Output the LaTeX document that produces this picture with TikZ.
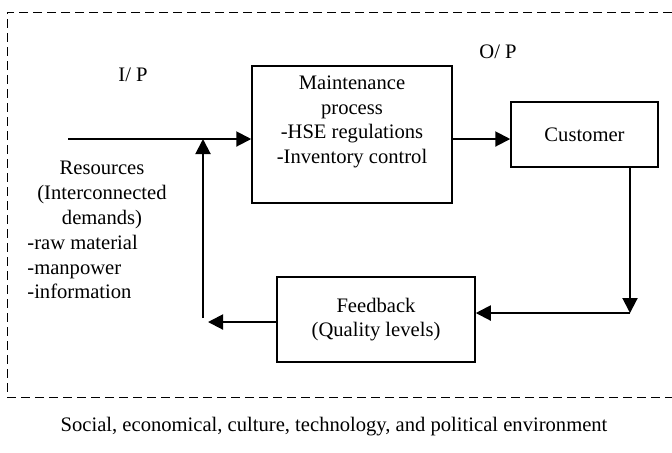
\documentclass[tikz,border=0pt]{standalone}
\usepackage{fontspec}
\setmainfont{Liberation Serif}
\usepackage{tikz}
\usetikzlibrary{arrows.meta}
\usetikzlibrary{positioning}
\tikzset{
  box/.style = {draw, line width=0.75pt, inner sep=0pt},
  txt/.style = {inner sep=0pt, font=\fontsize{10.3}{12.3}\selectfont},
  flow/.style = {line width=1pt, -{Triangle[length=7.5pt,width=7.5pt]}},
  env/.style = {line width=0.5pt, dash pattern=on 4.5pt off 2.5pt}
}

\begin{document}
\begin{tikzpicture}[x=0.5pt,y=-0.5pt]
\useasboundingbox (0,0) rectangle (672,452);

% environment frame (open to the right)
\draw[env] (672,12) -- (7,12) -- (7,397) -- (672,397);
\node[txt] (envtext) at (334,427) {Social, economical, culture, technology, and political environment};

% boxes
\node[box, minimum width=100pt, minimum height=68.5pt] (maint) at (352,134.5) {};
\node[txt, align=center] (mainttext) at (352,122) {Maintenance\\process\\-HSE regulations\\-Inventory control};
\node[box, txt, draw, line width=0.75pt, minimum width=73.5pt, minimum height=32.5pt] (cust) at (584.5,134.5) {Customer};
\node[box, txt, draw, line width=0.75pt, align=center, minimum width=99pt, minimum height=42.5pt] (fb) at (376,319.5) {Feedback\\(Quality levels)};

% labels
\node[txt] (ip) at (133,75) {I/ P};
\node[txt] (op) at (498,52) {O/ P};
\node[txt, align=center, anchor=north] (res) at (102,161) {Resources\\(Interconnected\\demands)};
\node[txt, align=left, anchor=north west] (list) at (27,235) {-raw material\\-manpower\\-information};

% connectors
\coordinate (in) at (68,139);
\coordinate (join) at (203,139);
\coordinate (up) at (203,318);
\coordinate (back) at (208,322);
\coordinate (turn) at (630,313);

\draw[flow] (in) -- (in -| maint.west);
\draw[flow] ([yshift=-2.25pt]maint.east) -- ([yshift=-2.25pt]cust.west);
\draw[flow] (cust.south -| turn) -- (turn);
\draw[flow] (turn) -- (turn -| fb.east);
\draw[flow] (fb.west |- back) -- (back);
\draw[flow] (up) -- (join);
\end{tikzpicture}
\end{document}
